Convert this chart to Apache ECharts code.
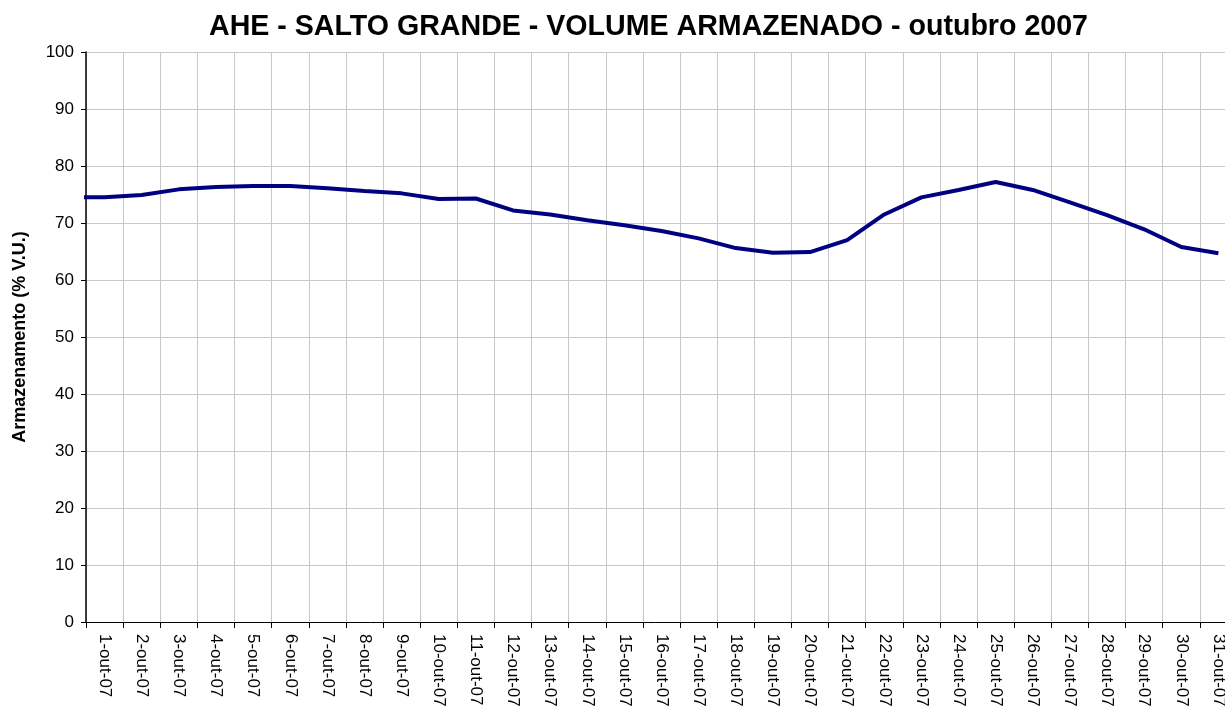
<!DOCTYPE html>
<html>
<head>
<meta charset="utf-8">
<script src="https://cdn.jsdelivr.net/npm/echarts@6/dist/echarts.min.js"></script>
<style>
  html, body { margin: 0; padding: 0; background: #fff; }
  #main { width: 1225px; height: 713px; }
</style>
</head>
<body>
<div id="main"></div>
<script>
// days of october 2007 (category labels)
var dias = [];
for (var d = 1; d <= 31; d++) dias.push(d + '-out-07');

// stored volume (% V.U.), first value is 30-set-07 (line enters from the left edge)
var volume = [74.5,
    74.5, 74.9, 75.9, 76.3, 76.5, 76.5, 76.1, 75.6, 75.2, 74.2,
    74.3, 72.2, 71.5, 70.5, 69.6, 68.6, 67.3, 65.6, 64.8, 64.9,
    67.0, 71.5, 74.5, 75.8, 77.2, 75.8, 73.6, 71.4, 68.9, 65.8,
    64.7];

var yTicks = { min: 0, max: 100, interval: 10 };

var myChart = echarts.init(document.getElementById('main'));

var pontos = volume.map(function (v, i) { return [i, v]; });

option = {
    backgroundColor: '#fff',
    animation: false,
    title: {
        text: 'AHE - SALTO GRANDE - VOLUME ARMAZENADO - outubro 2007',
        left: 204,
        top: 8,
        textStyle: {
            fontFamily: 'Liberation Sans',
            fontSize: 28.6,
            fontWeight: 'bold',
            color: '#000'
        }
    },
    grid: {
        left: 86,
        top: 52,
        width: 1151,
        height: 570,
        outerBoundsMode: 'none'
    },
    xAxis: [
        {
            type: 'category',
            data: dias,
            boundaryGap: true,
            axisLine: { lineStyle: { color: '#000', width: 1 } },
            axisTick: { show: true, inside: false, length: 6, lineStyle: { color: '#000' } },
            axisLabel: {
                rotate: -90,
                interval: 0,
                margin: 12,
                fontFamily: 'Liberation Sans',
                fontSize: 17,
                color: '#000'
            },
            splitLine: { show: true, interval: 0, lineStyle: { color: '#c8c8c8', width: 1 } }
        },
        {
            type: 'value',
            min: 0.5,
            max: 31.5,
            show: false,
            splitLine: { show: false }
        }
    ],
    yAxis: {
        type: 'value',
        min: yTicks.min,
        max: yTicks.max,
        interval: yTicks.interval,
        name: 'Armazenamento (% V.U.)',
        nameLocation: 'middle',
        nameGap: 57,
        nameTextStyle: {
            fontFamily: 'Liberation Sans',
            fontSize: 18,
            fontWeight: 'bold',
            color: '#000'
        },
        axisLine: { show: true, lineStyle: { color: '#000', width: 1.5 } },
        axisTick: { show: true, inside: false, length: 5, lineStyle: { color: '#000' } },
        axisLabel: {
            margin: 12,
            fontFamily: 'Liberation Sans',
            fontSize: 17,
            color: '#000'
        },
        splitLine: { show: true, lineStyle: { color: '#c8c8c8', width: 1 } }
    },
    series: [
        {
            name: 'Armazenamento',
            type: 'line',
            xAxisIndex: 1,
            data: pontos,
            showSymbol: false,
            clip: true,
            lineStyle: { color: '#000080', width: 4 },
            itemStyle: { color: '#000080' }
        }
    ]
};

myChart.setOption(option);
</script>
</body>
</html>
